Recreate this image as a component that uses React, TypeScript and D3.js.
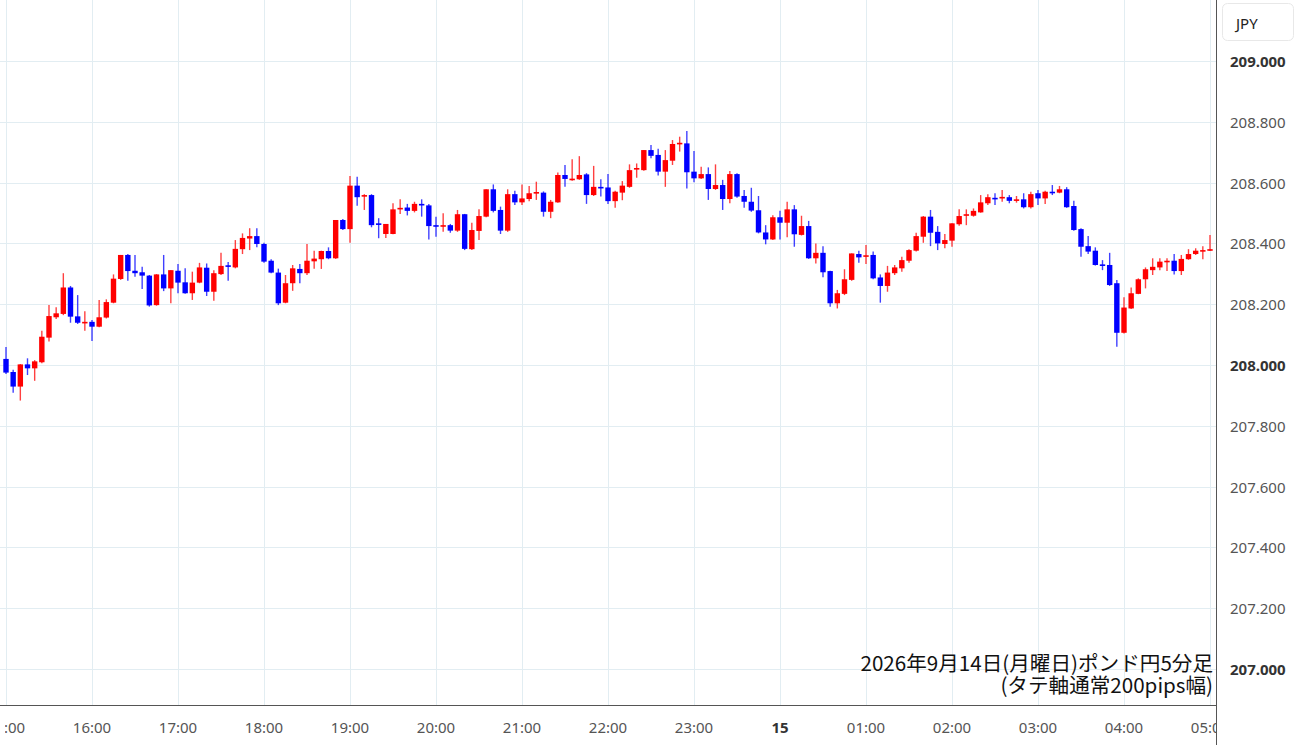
import React, { useEffect, useRef } from 'react';
import * as d3 from 'd3';

// GBP/JPY 5-minute candles, 2026-09-14 15:00 -> 09-15 05:00
const opens = [
  208.020, 207.977, 207.929, 208.002, 207.989, 208.009, 208.090, 208.157, 208.168, 208.255,
  208.160, 208.140, 208.142, 208.126, 208.156, 208.205, 208.283, 208.362, 208.310, 208.305,
  208.294, 208.197, 208.298, 208.252, 208.310, 208.272, 208.236, 208.271, 208.320, 208.241,
  208.299, 208.328, 208.321, 208.381, 208.416, 208.424, 208.398, 208.343, 208.304, 208.205,
  208.269, 208.316, 208.302, 208.341, 208.348, 208.375, 208.351, 208.477, 208.447, 208.590,
  208.554, 208.559, 208.466, 208.431, 208.431, 208.512, 208.518, 208.507, 208.530, 208.525,
  208.460, 208.456, 208.460, 208.442, 208.496, 208.381, 208.441, 208.488, 208.578, 208.510,
  208.442, 208.562, 208.535, 208.546, 208.565, 208.567, 208.504, 208.535, 208.625, 208.610,
  208.611, 208.627, 208.559, 208.586, 208.584, 208.539, 208.567, 208.586, 208.645, 208.641,
  208.707, 208.691, 208.636, 208.672, 208.727, 208.729, 208.636, 208.614, 208.628, 208.579,
  208.592, 208.546, 208.628, 208.556, 208.537, 208.509, 208.436, 208.413, 208.486, 208.468,
  208.512, 208.428, 208.457, 208.351, 208.369, 208.309, 208.203, 208.234, 208.280, 208.365,
  208.356, 208.362, 208.288, 208.260, 208.302, 208.318, 208.343, 208.376, 208.422, 208.488,
  208.438, 208.398, 208.409, 208.463, 208.491, 208.491, 208.502, 208.532, 208.550, 208.548,
  208.552, 208.542, 208.545, 208.519, 208.565, 208.548, 208.570, 208.567, 208.578, 208.523,
  208.447, 208.391, 208.376, 208.331, 208.329, 208.269, 208.106, 208.186, 208.234, 208.282,
  208.312, 208.321, 208.339, 208.343, 208.309, 208.348, 208.365, 208.375, 208.376,
];

const highs = [
  208.059, 207.984, 208.003, 208.022, 208.016, 208.113, 208.197, 208.190, 208.302, 208.260,
  208.230, 208.177, 208.148, 208.214, 208.216, 208.298, 208.362, 208.365, 208.362, 208.323,
  208.296, 208.299, 208.362, 208.312, 208.332, 208.318, 208.307, 208.336, 208.334, 208.312,
  208.369, 208.339, 208.411, 208.433, 208.450, 208.450, 208.402, 208.348, 208.317, 208.296,
  208.329, 208.332, 208.398, 208.376, 208.376, 208.387, 208.477, 208.480, 208.622, 208.619,
  208.562, 208.562, 208.483, 208.464, 208.532, 208.545, 208.530, 208.537, 208.545, 208.530,
  208.488, 208.499, 208.464, 208.510, 208.497, 208.468, 208.512, 208.578, 208.594, 208.521,
  208.578, 208.573, 208.594, 208.589, 208.603, 208.571, 208.543, 208.633, 208.658, 208.677,
  208.687, 208.631, 208.655, 208.611, 208.628, 208.573, 208.605, 208.660, 208.663, 208.707,
  208.724, 208.711, 208.707, 208.740, 208.751, 208.770, 208.704, 208.652, 208.650, 208.660,
  208.609, 208.638, 208.631, 208.576, 208.583, 208.556, 208.460, 208.493, 208.507, 208.537,
  208.526, 208.491, 208.474, 208.400, 208.391, 208.310, 208.247, 208.315, 208.367, 208.376,
  208.395, 208.373, 208.298, 208.326, 208.329, 208.356, 208.381, 208.435, 208.490, 208.510,
  208.457, 208.431, 208.466, 208.512, 208.512, 208.515, 208.559, 208.562, 208.565, 208.576,
  208.559, 208.556, 208.565, 208.570, 208.576, 208.573, 208.592, 208.589, 208.585, 208.540,
  208.450, 208.424, 208.387, 208.345, 208.369, 208.280, 208.223, 208.255, 208.285, 208.321,
  208.351, 208.351, 208.351, 208.365, 208.362, 208.381, 208.384, 208.391, 208.428,
];

const lows = [
  207.970, 207.909, 207.883, 207.967, 207.948, 208.006, 208.077, 208.151, 208.164, 208.139,
  208.135, 208.113, 208.079, 208.124, 208.153, 208.203, 208.280, 208.277, 208.290, 208.250,
  208.192, 208.195, 208.243, 208.203, 208.236, 208.234, 208.214, 208.269, 208.227, 208.211,
  208.296, 208.277, 208.318, 208.365, 208.378, 208.387, 208.336, 208.302, 208.197, 208.203,
  208.244, 208.269, 208.296, 208.317, 208.316, 208.348, 208.349, 208.444, 208.402, 208.524,
  208.510, 208.453, 208.417, 208.418, 208.430, 208.497, 208.492, 208.502, 208.488, 208.413,
  208.422, 208.438, 208.435, 208.438, 208.378, 208.378, 208.411, 208.486, 208.502, 208.431,
  208.438, 208.526, 208.526, 208.539, 208.543, 208.488, 208.483, 208.534, 208.586, 208.606,
  208.609, 208.530, 208.556, 208.554, 208.530, 208.517, 208.542, 208.583, 208.616, 208.639,
  208.680, 208.623, 208.586, 208.658, 208.702, 208.581, 208.601, 208.612, 208.543, 208.576,
  208.510, 208.532, 208.550, 208.517, 208.504, 208.433, 208.397, 208.411, 208.413, 208.420,
  208.389, 208.426, 208.349, 208.334, 208.289, 208.192, 208.186, 208.230, 208.277, 208.336,
  208.332, 208.282, 208.205, 208.241, 208.296, 208.307, 208.336, 208.373, 208.402, 208.391,
  208.378, 208.384, 208.389, 208.458, 208.460, 208.488, 208.501, 208.526, 208.526, 208.537,
  208.532, 208.534, 208.515, 208.515, 208.526, 208.530, 208.559, 208.565, 208.517, 208.442,
  208.356, 208.365, 208.327, 208.312, 208.260, 208.060, 208.104, 208.184, 208.233, 208.252,
  208.296, 208.312, 208.309, 208.298, 208.296, 208.346, 208.362, 208.348, 208.375,
];

const closes = [
  207.975, 207.929, 208.002, 207.989, 208.012, 208.093, 208.161, 208.170, 208.255, 208.159,
  208.139, 208.142, 208.126, 208.157, 208.207, 208.284, 208.362, 208.309, 208.302, 208.294,
  208.196, 208.298, 208.252, 208.312, 208.271, 208.236, 208.271, 208.321, 208.241, 208.302,
  208.326, 208.325, 208.382, 208.418, 208.424, 208.398, 208.340, 208.304, 208.203, 208.269,
  208.318, 208.302, 208.343, 208.350, 208.375, 208.351, 208.477, 208.447, 208.590, 208.552,
  208.559, 208.460, 208.463, 208.464, 208.512, 208.517, 208.507, 208.530, 208.525, 208.457,
  208.457, 208.460, 208.442, 208.496, 208.382, 208.444, 208.490, 208.578, 208.507, 208.442,
  208.562, 208.535, 208.548, 208.565, 208.569, 208.504, 208.537, 208.625, 208.612, 208.613,
  208.625, 208.559, 208.586, 208.583, 208.539, 208.570, 208.590, 208.641, 208.648, 208.707,
  208.688, 208.636, 208.674, 208.727, 208.731, 208.634, 208.614, 208.628, 208.579, 208.592,
  208.546, 208.628, 208.554, 208.537, 208.508, 208.436, 208.413, 208.486, 208.468, 208.512,
  208.430, 208.457, 208.351, 208.369, 208.305, 208.203, 208.236, 208.282, 208.367, 208.354,
  208.361, 208.285, 208.260, 208.304, 208.321, 208.345, 208.378, 208.424, 208.488, 208.435,
  208.400, 208.411, 208.466, 208.490, 208.496, 208.507, 208.535, 208.552, 208.546, 208.553,
  208.540, 208.545, 208.519, 208.562, 208.548, 208.570, 208.567, 208.578, 208.519, 208.444,
  208.389, 208.373, 208.329, 208.328, 208.263, 208.106, 208.189, 208.236, 208.282, 208.315,
  208.323, 208.340, 208.343, 208.309, 208.349, 208.365, 208.376, 208.378, 208.381,
];

const startTime = new Date(2026, 8, 14, 15, 0);
const barMinutes = 5;
const priceTicks = [207.0, 207.2, 207.4, 207.6, 207.8, 208.0, 208.2, 208.4, 208.6, 208.8, 209.0];
const hourLabels = ['15:00', '16:00', '17:00', '18:00', '19:00', '20:00', '21:00', '22:00', '23:00',
  '15', '01:00', '02:00', '03:00', '04:00', '05:00'];
const currency = 'JPY';
const noteLines = ['2026年9月14日(月曜日)ポンド円5分足', '(タテ軸通常200pips幅)'];

const UP = '#ff0000';
const DOWN = '#0000ff';
const GRID = '#e2edf2';
const FONT = '"Noto Sans", "Open Sans", sans-serif';

function drawChart(el: SVGSVGElement) {
  const plotRight = 1216, axisY = 705;
  const svg = d3.select(el);
  svg.selectAll('*').remove();

  const times = opens.map((_, i) => d3.timeMinute.offset(startTime, i * barMinutes));
  const endTime = times[times.length - 1];

  const x = d3.scaleTime().domain([startTime, endTime]).range([6, 1210]);
  const y = d3.scaleLinear().domain([207, 209]).range([669, 61]);

  svg.append('rect').attr('width', 1300).attr('height', 745).attr('fill', '#fff');

  const defs = svg.append('defs');
  defs.append('clipPath').attr('id', 'plot-clip')
    .append('rect').attr('x', 0).attr('y', 0).attr('width', plotRight).attr('height', axisY);
  // the time labels get cut at both ends of the axis, as in the source chart
  defs.append('clipPath').attr('id', 'xlab-clip')
    .append('rect').attr('x', 5).attr('y', axisY).attr('width', plotRight - 5).attr('height', 40);

  const hours = d3.timeHour.range(startTime, d3.timeMinute.offset(endTime, 1));

  // grid
  const grid = svg.append('g').attr('clip-path', 'url(#plot-clip)');
  grid.selectAll('line.v').data(hours).join('line')
    .attr('x1', d => Math.round(x(d)) + 0.5).attr('x2', d => Math.round(x(d)) + 0.5)
    .attr('y1', 0).attr('y2', axisY)
    .attr('stroke', GRID).attr('stroke-width', 1);
  grid.selectAll('line.h').data(priceTicks).join('line')
    .attr('x1', 0).attr('x2', plotRight)
    .attr('y1', d => Math.round(y(d)) + 0.5).attr('y2', d => Math.round(y(d)) + 0.5)
    .attr('stroke', GRID).attr('stroke-width', 1);

  // candles
  const bars = svg.append('g').attr('clip-path', 'url(#plot-clip)')
    .selectAll('g').data(opens.map((o, i) => ({ t: times[i], o, h: highs[i], l: lows[i], c: closes[i] })))
    .join('g');
  const col = (d: any) => (d.c >= d.o ? UP : DOWN);
  bars.append('line')
    .attr('x1', d => x(d.t)).attr('x2', d => x(d.t))
    .attr('y1', d => y(d.h)).attr('y2', d => y(d.l))
    .attr('stroke', col).attr('stroke-width', 1.4).attr('stroke-opacity', 0.75);
  bars.append('rect')
    .attr('x', d => x(d.t) - 2.7).attr('width', 5.4)
    .attr('y', d => y(Math.max(d.o, d.c)))
    .attr('height', d => Math.max(1.6, Math.abs(y(d.o) - y(d.c))))
    .attr('fill', col);

  // axes lines
  svg.append('line').attr('x1', plotRight + 0.5).attr('x2', plotRight + 0.5)
    .attr('y1', 0).attr('y2', 745).attr('stroke', '#555').attr('stroke-width', 1);
  svg.append('line').attr('x1', 0).attr('x2', plotRight)
    .attr('y1', axisY + 0.5).attr('y2', axisY + 0.5).attr('stroke', '#555').attr('stroke-width', 1);

  // price labels
  const whole = (d: number) => Math.abs(d - Math.round(d)) < 1e-6;
  svg.append('g').selectAll('text').data(priceTicks).join('text')
    .attr('x', 1230).attr('y', d => y(d))
    .attr('dominant-baseline', 'central')
    .attr('font-family', FONT).attr('font-size', 15)
    .attr('font-weight', d => (whole(d) ? 700 : 400))
    .attr('fill', d => (whole(d) ? '#333' : '#555'))
    .text(d => d.toFixed(3));

  // time labels
  svg.append('g').attr('clip-path', 'url(#xlab-clip)')
    .selectAll('text').data(hours).join('text')
    .attr('x', d => x(d)).attr('y', 727)
    .attr('text-anchor', 'middle').attr('dominant-baseline', 'central')
    .attr('font-family', FONT).attr('font-size', 15)
    .attr('font-weight', (_, i) => (hourLabels[i].length === 2 ? 700 : 400))
    .attr('fill', (_, i) => (hourLabels[i].length === 2 ? '#333' : '#555'))
    .text((_, i) => hourLabels[i]);

  // currency box
  svg.append('rect').attr('x', 1222.5).attr('y', 3.5).attr('width', 71).attr('height', 37).attr('rx', 5)
    .attr('fill', '#fff').attr('stroke', '#e8e8e8');
  svg.append('text').attr('x', 1236).attr('y', 22.5).attr('dominant-baseline', 'central')
    .attr('font-family', FONT).attr('font-size', 15).attr('fill', '#222').text(currency);

  // note
  svg.append('g').selectAll('text').data(noteLines).join('text')
    .attr('x', 1213).attr('y', (_, i) => 671 + i * 22)
    .attr('text-anchor', 'end')
    .attr('font-family', '"Noto Sans CJK JP", sans-serif').attr('font-size', 20.6)
    .attr('fill', '#111')
    .text(d => d);
}

export default function App() {
  const ref = useRef<SVGSVGElement>(null);
  useEffect(() => {
    if (ref.current) drawChart(ref.current);
  }, []);
  return (
    <svg ref={ref} width={1300} height={745}
      style={{ position: 'absolute', left: 0, top: 0, display: 'block' }} />
  );
}
